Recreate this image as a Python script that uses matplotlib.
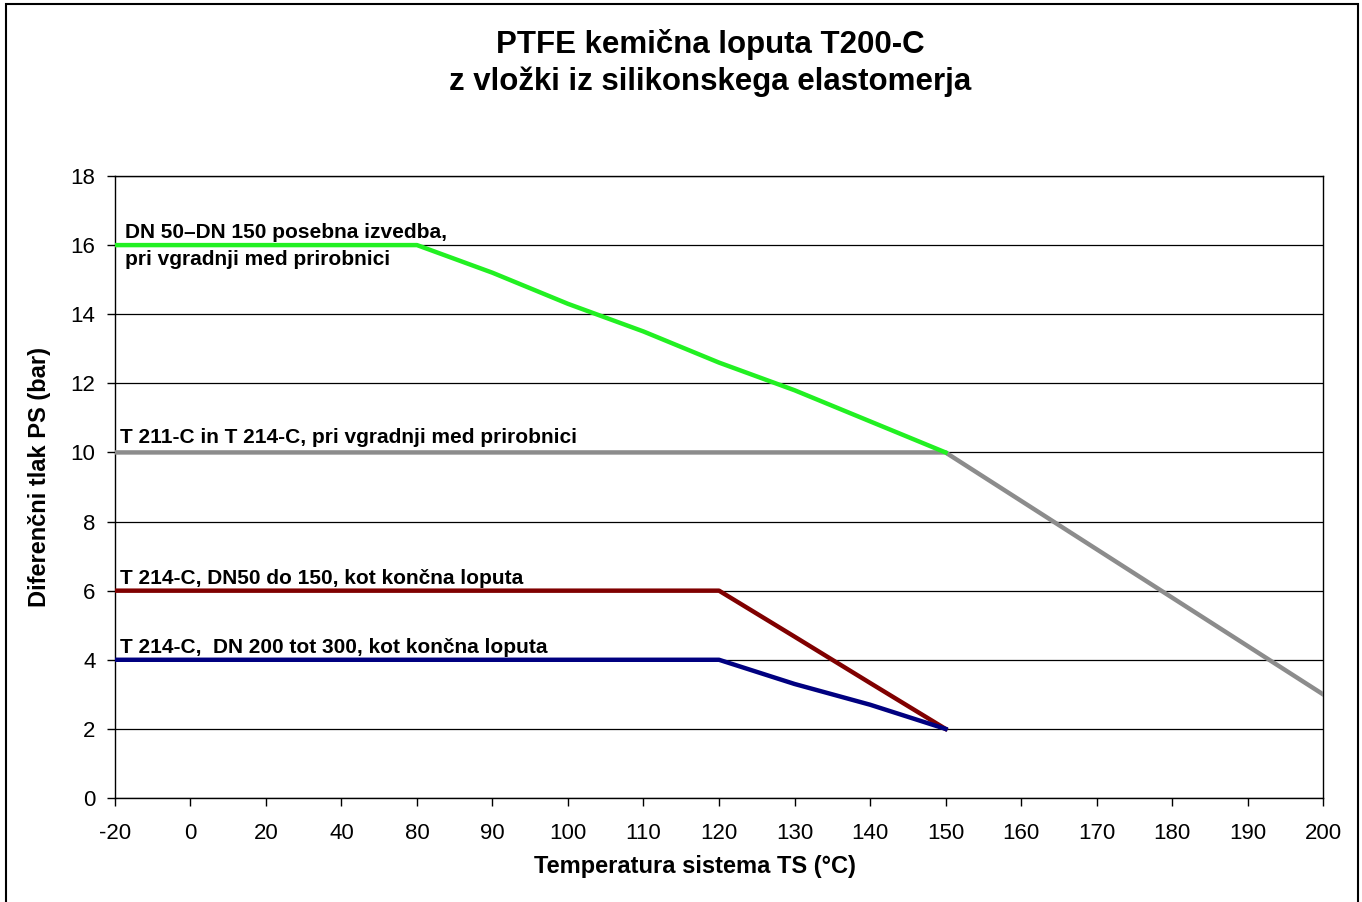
import numpy as np
import matplotlib.pyplot as plt
from matplotlib.patches import Rectangle

plt.rcParams['font.family'] = ['Liberation Sans', 'DejaVu Sans']

# x categories (evenly spaced, as in the original spreadsheet chart)
temps = ['-20', '0', '20', '40', '80', '90', '100', '110', '120', '130',
         '140', '150', '160', '170', '180', '190', '200']

green_vals = [16, 16, 16, 16, 16, 15.2, 14.3, 13.5, 12.6, 11.8, 10.9, 10.0]
gray_vals = [10, 10, 10, 10, 10, 10, 10, 10, 10, 10, 10, 10, 8.6, 7.2, 5.8, 4.4, 3.0]
red_vals = [6, 6, 6, 6, 6, 6, 6, 6, 6, 4.67, 3.33, 2.0]
blue_vals = [4, 4, 4, 4, 4, 4, 4, 4, 4, 3.3, 2.7, 2.0]

title = 'PTFE kemična loputa T200-C\nz vložki iz silikonskega elastomerja'
xlabel = 'Temperatura sistema TS (°C)'
ylabel = 'Diferenčni tlak PS (bar)'

fig = plt.figure(figsize=(13.62, 9.02), dpi=100)
# outer frame of the chart object (bottom edge falls outside the image)
fig.patches.append(Rectangle((6 / 1362, -0.02), 1352 / 1362, 1.02 - 4 / 902,
                             transform=fig.transFigure, fill=False,
                             edgecolor='black', linewidth=1.5))
ax = fig.add_axes([0.0844, 0.1153, 0.887, 0.6896])

x = np.arange(len(temps))
ax.plot(x[:len(gray_vals)], gray_vals, color='#8c8c8c', lw=3.2, zorder=3)
ax.plot(x[:len(green_vals)], green_vals, color='#22f022', lw=3.2, zorder=4)
ax.plot(x[:len(red_vals)], red_vals, color='#800000', lw=3.2, zorder=4)
ax.plot(x[:len(blue_vals)], blue_vals, color='#000080', lw=3.2, zorder=5)

ax.set_xlim(0, len(temps) - 1)
ax.set_ylim(0, 18)
ax.set_xticks(x)
ax.set_xticklabels(temps)
ax.set_yticks(np.arange(0, 19, 2))
ax.yaxis.grid(True, color='black', lw=0.9)
ax.set_axisbelow(True)
for s in ax.spines.values():
    s.set_linewidth(1.0)
ax.tick_params(labelsize=16, length=6, direction='out', width=1)
ax.tick_params(axis='x', pad=12)
ax.tick_params(axis='y', pad=8)

fig.text(695 / 1362, 1 - 866 / 902, xlabel, fontsize=17, fontweight='bold',
         ha='center', va='center')
fig.text(40 / 1362, 1 - 477 / 902, ylabel, fontsize=17, fontweight='bold',
         ha='center', va='center', rotation=90)
fig.text(710 / 1362, 1 - 63 / 902, title, fontsize=22.5, fontweight='bold',
         ha='center', va='center', linespacing=1.3)

lbl = dict(fontsize=15, fontweight='bold', va='baseline')
ax.text(0.13, 16.21, 'DN 50–DN 150 posebna izvedba,', **lbl)
ax.text(0.13, 15.43, 'pri vgradnji med prirobnici', **lbl)
ax.text(0.07, 10.26, 'T 211-C in T 214-C, pri vgradnji med prirobnici', **lbl)
ax.text(0.07, 6.2, 'T 214-C, DN50 do 150, kot končna loputa', **lbl)
ax.text(0.07, 4.2, 'T 214-C,  DN 200 tot 300, kot končna loputa', **lbl)

fig.savefig('out.png', dpi=100)
